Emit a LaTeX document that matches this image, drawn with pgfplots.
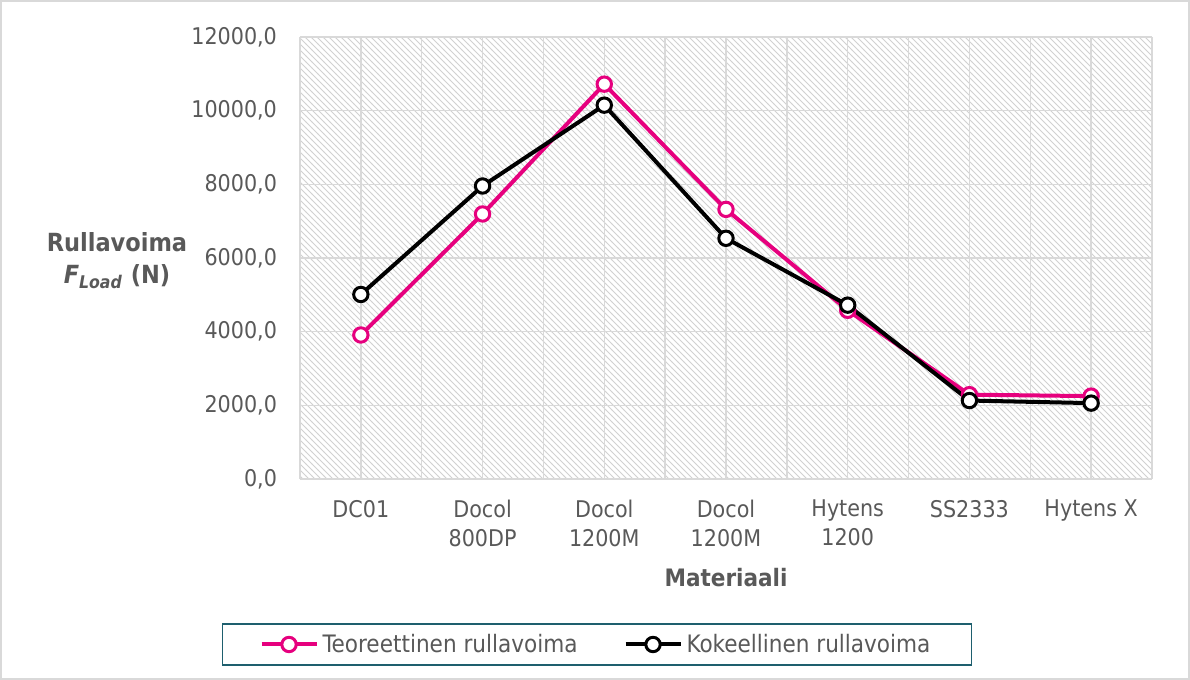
\documentclass[border=0pt]{standalone}
\usepackage{fontspec}
\setmainfont{DejaVu Sans Condensed}
\usepackage{pgfplots}
\pgfplotsset{compat=1.18}
\usetikzlibrary{patterns}
\definecolor{txt}{RGB}{89,89,89}
\definecolor{gridc}{RGB}{217,217,217}
\definecolor{pinkc}{RGB}{230,0,126}
\definecolor{legb}{RGB}{30,95,110}
\begin{document}
\begin{tikzpicture}[x=1pt,y=1pt]
\useasboundingbox (-150,-100.5) rectangle (445,239.5);
\draw[gridc, line width=0.75pt] (-149.6,-100.1) rectangle (444.6,239.1);
\begin{axis}[
  scale only axis, width=426pt, height=221pt,
  at={(0,0)}, anchor=south west,
  xmin=-0.5, xmax=6.5, ymin=0, ymax=12000,
  axis background/.style={pattern=north west lines, pattern color=black!18},
  axis line style={draw=none},
  xtick={0,...,6},
  minor xtick={-0.5,0.5,...,6.5},
  xticklabels={DC01,{Docol\\800DP},{Docol\\1200M},{Docol\\1200M},{Hytens\\1200},SS2333,Hytens X},
  ytick={0,2000,...,12000},
  scaled y ticks=false,
  xmajorgrids=true, xminorgrids=true, ymajorgrids=true,
  grid style={gridc, line width=0.75pt},
  minor grid style={gridc, line width=0.75pt},
  major tick length=0pt, minor tick length=0pt,
  tick label style={font=\fontsize{11.5}{14.5}\selectfont, text=txt},
  xticklabel style={align=center, yshift=-7pt},
  yticklabel style={xshift=-8pt, /pgf/number format/.cd, fixed, fixed zerofill, precision=1, use comma, 1000 sep={}, assume math mode=true},
  clip=false,
  legend columns=2,
  legend style={at={(0.3486,-0.3744)}, anchor=center, draw=legb, line width=0.75pt,
    font=\fontsize{12}{14}\selectfont, text=txt, inner xsep=18.5pt, inner ysep=3pt,
    /tikz/every even column/.append style={column sep=21pt}},
  legend cell align=left,
  legend image code/.code={\draw[mark repeat=2, mark phase=2] plot coordinates {(0pt,0pt) (13.75pt,0pt) (27.5pt,0pt)};},
]
\addplot[pinkc, line width=2pt, mark=*, mark size=3.6pt, mark options={fill=white, draw=pinkc, line width=1.5pt}]
  coordinates {(0,3910) (1,7195) (2,10720) (3,7320) (4,4580) (5,2290) (6,2250)};
\addlegendentry{Teoreettinen rullavoima}
\addplot[black, line width=2pt, mark=*, mark size=3.6pt, mark options={fill=white, draw=black, line width=1.5pt}]
  coordinates {(0,5010) (1,7955) (2,10150) (3,6535) (4,4720) (5,2130) (6,2060)};
\addlegendentry{Kokeellinen rullavoima}
\end{axis}
\node[font=\bfseries\fontsize{12.5}{16}\selectfont, text=txt, align=center] at (-91.5,109) {Rullavoima\\\textit{F}\textsubscript{\textit{Load}} (N)};
\node[font=\bfseries\fontsize{12}{14}\selectfont, text=txt] at (213,-49.5) {Materiaali};
\end{tikzpicture}
\end{document}
